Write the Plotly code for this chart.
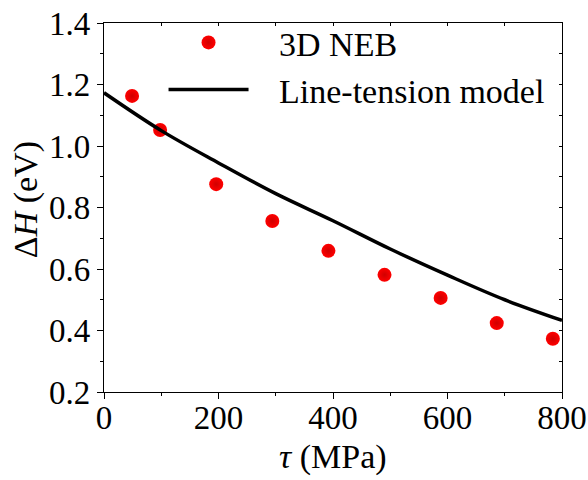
import plotly.graph_objects as go

# Data
neb_tau = [49, 98, 196, 294, 392, 490, 588, 686, 784]
neb_dH = [1.163, 1.052, 0.876, 0.756, 0.659, 0.581, 0.506, 0.424, 0.373]

model_tau = [0, 100, 200, 300, 400, 500, 600, 700, 800]
model_dH = [1.173, 1.050, 0.945, 0.845, 0.757, 0.665, 0.580, 0.500, 0.433]

x_title = "<i>τ</i> (MPa)"
y_title = "Δ<i>H</i> (eV)"

FONT = "Liberation Serif"
FS = 33

fig = go.Figure()
fig.add_trace(go.Scatter(
    x=neb_tau, y=neb_dH, mode="markers", name="\u00a0\u00a0\u00a03D NEB",
    marker=dict(size=14, color="#ff0000",
                gradient=dict(type="radial", color="#d00000"),
                line=dict(width=0)),
))
fig.add_trace(go.Scatter(
    x=model_tau, y=model_dH, mode="lines", name="\u00a0\u00a0\u00a0Line-tension model",
    line=dict(color="black", width=3.5, shape="spline"),
))
# invisible trace so top/right tick axes are drawn
fig.add_trace(go.Scatter(
    x=model_tau, y=model_dH, mode="lines", xaxis="x2", yaxis="y2",
    line=dict(width=0), opacity=0, showlegend=False, hoverinfo="skip",
))

fig.update_layout(
    width=588, height=480,
    margin=dict(l=104, r=26, t=23, b=88, autoexpand=False),
    paper_bgcolor="white", plot_bgcolor="white",
    font=dict(family=FONT, size=FS, color="black"),
    showlegend=True,
    legend=dict(x=0.13, y=1.025, xanchor="left", yanchor="top",
                bgcolor="rgba(0,0,0,0)", borderwidth=0,
                font=dict(family=FONT, size=34, color="black"),
                itemwidth=80, tracegroupgap=0),
    xaxis=dict(range=[0, 800], dtick=200, tick0=0, automargin=False,
               showline=True, linecolor="black", linewidth=1.3,
               ticks="outside", ticklen=6, tickwidth=1.3, tickcolor="black",
               ticklabelstandoff=-10,
               minor=dict(dtick=100, ticks="outside", ticklen=3, tickwidth=1.3, tickcolor="black"),
               showgrid=False, zeroline=False,
               tickfont=dict(family=FONT, size=FS)),
    yaxis=dict(range=[0.2, 1.4], dtick=0.2, tick0=0.2, tickformat=".1f", automargin=False,
               showline=True, linecolor="black", linewidth=1.3,
               ticks="outside", ticklen=6, tickwidth=1.3, tickcolor="black",
               minor=dict(dtick=0.1, ticks="outside", ticklen=3, tickwidth=1.3, tickcolor="black"),
               showgrid=False, zeroline=False,
               tickfont=dict(family=FONT, size=FS)),
    xaxis2=dict(range=[0, 800], overlaying="x", side="top", anchor="y2",
                dtick=100, tick0=0, showticklabels=False, automargin=False,
                showline=True, linecolor="black", linewidth=1.3,
                ticks="inside", ticklen=3, tickwidth=1.3, tickcolor="black",
                showgrid=False, zeroline=False),
    yaxis2=dict(range=[0.2, 1.4], overlaying="y", side="right", anchor="x2",
                dtick=0.1, tick0=0.2, showticklabels=False, automargin=False,
                showline=True, linecolor="black", linewidth=1.3,
                ticks="inside", ticklen=3, tickwidth=1.3, tickcolor="black",
                showgrid=False, zeroline=False),
)

# axis titles
fig.add_annotation(text=x_title, xref="paper", yref="paper", x=0.5, y=-0.175,
                   xanchor="center", yanchor="middle", showarrow=False,
                   font=dict(family=FONT, size=34, color="black"))
fig.add_annotation(text=y_title, xref="paper", yref="paper", x=-0.17, y=0.52,
                   xanchor="center", yanchor="middle", showarrow=False, textangle=-90,
                   font=dict(family=FONT, size=34, color="black"))

fig.write_html("out.html")
